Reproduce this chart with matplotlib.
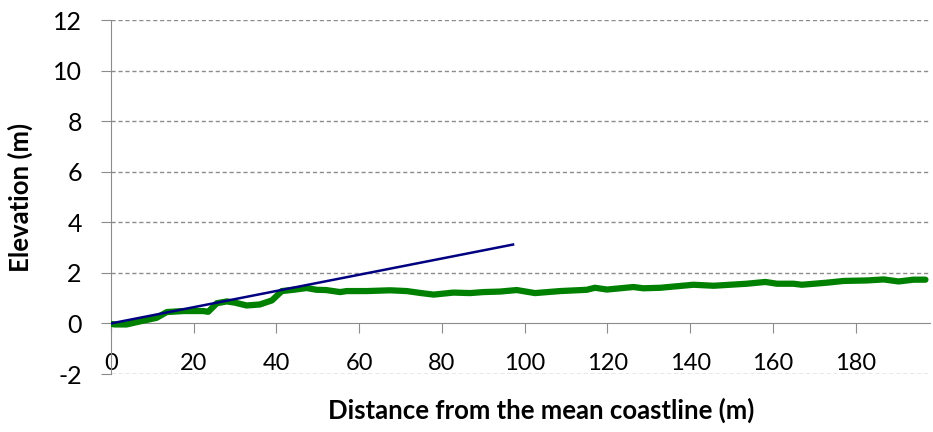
import matplotlib.pyplot as plt
from matplotlib import font_manager

# profile readings (distance m, elevation m)
dist = [0, 1, 3.8, 7, 11, 13.5, 17.5, 22.3, 23.5, 25.6, 28, 30, 32.8, 36, 38.9, 41.3,
        44.1, 47.3, 49.7, 52, 55.4, 57, 61.8, 67.5, 71.5, 75, 78, 82.8, 86.8, 90,
        94, 98.1, 102.5, 108.6, 115, 117, 119.9, 126.3, 128.7, 132.8, 140.8, 145.7,
        153.7, 158.2, 161, 165, 167, 173, 177.1, 182.8, 186.8, 190.4, 194, 196.9]
elev = [-0.02, -0.04, -0.04, 0.08, 0.22, 0.45, 0.49, 0.49, 0.46, 0.8, 0.87, 0.82, 0.71, 0.75, 0.91, 1.28,
        1.33, 1.40, 1.33, 1.32, 1.24, 1.28, 1.28, 1.31, 1.28, 1.2, 1.14, 1.22, 1.2, 1.24,
        1.26, 1.32, 1.2, 1.28, 1.33, 1.41, 1.34, 1.44, 1.39, 1.41, 1.53, 1.49,
        1.57, 1.64, 1.57, 1.57, 1.53, 1.61, 1.68, 1.70, 1.74, 1.66, 1.73, 1.73]

# fitted slope line
slope_x = [0, 97.2]
slope_y = [0, 3.12]

yticks = [-2, 0, 2, 4, 6, 8, 10, 12]
xticks = [0, 20, 40, 60, 80, 100, 120, 140, 160, 180]

names = {f.name for f in font_manager.fontManager.ttflist}
fam = 'Lato' if 'Lato' in names else 'DejaVu Sans'
plt.rcParams['font.family'] = fam
plt.rcParams['axes.unicode_minus'] = False

fig = plt.figure(figsize=(9.33, 4.32), dpi=100)
ax = fig.add_axes([111 / 933, 1 - 374 / 432, (930 - 111) / 933, (374 - 20) / 432])

ax.plot(dist, elev, color='#008000', lw=4.5, solid_capstyle='round',
        solid_joinstyle='round', zorder=3)
ax.plot(slope_x, slope_y, color='#000080', lw=1.8, zorder=4)

ax.set_xlim(0, 198)
ax.set_ylim(-2, 12)
ax.set_yticks(yticks)
ax.set_xticks(xticks)

for y in yticks:
    if y != 0:
        ax.axhline(y, color='#8c8c8c', lw=1, ls=(0, (3, 2)), zorder=1)

for s in ['top', 'right']:
    ax.spines[s].set_visible(False)
ax.spines['bottom'].set_position(('data', 0))
ax.spines['bottom'].set_color('#8c8c8c')
ax.spines['left'].set_color('#8c8c8c')
ax.spines['bottom'].set_zorder(2)

ax.tick_params(axis='y', direction='out', length=7, color='#8c8c8c', labelsize=18, pad=14)
ax.tick_params(axis='x', direction='out', length=7, color='#8c8c8c', labelsize=17, pad=14)

ax.set_ylabel('Elevation (m)', fontsize=18.5, fontweight='bold', labelpad=14)
fig.text(541 / 933, 1 - 410 / 432, 'Distance from the mean coastline (m)',
         fontsize=18.5, fontweight='bold', ha='center', va='center')

fig.savefig('out.png', dpi=100)
